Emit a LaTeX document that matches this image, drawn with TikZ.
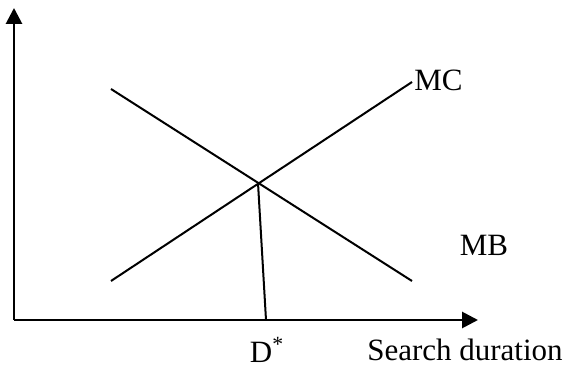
\documentclass[tikz,border=0pt]{standalone}
\usepackage{fontspec}
\setmainfont{Liberation Serif}
\usepackage{tikz}
\usetikzlibrary{arrows.meta}

\begin{document}
\begin{tikzpicture}[x=0.5pt,y=-0.5pt,
        axis/.style={line width=1.4pt,-{Triangle[length=8pt,width=8pt]}},
        curve/.style={line width=1pt},
        lbl/.style={font=\fontsize{15.5}{18}\selectfont,inner sep=0pt}]
            \useasboundingbox (0,0) rectangle (567,368);
            \coordinate (orig) at (14,320);
            \coordinate (ytop) at (14,8);
            \coordinate (xend) at (478,320);
            \coordinate (mcA) at (111,281);
            \coordinate (mcB) at (412,82);
            \coordinate (mbA) at (111,89);
            \coordinate (mbB) at (412,281);
            \coordinate (eq) at (258,183);
            \coordinate (dst) at (266,320);
            \draw[axis] (orig) -- (ytop);
            \draw[axis] (orig) -- (xend);
            \draw[curve] (mcA) -- (mcB);
            \draw[curve] (mbA) -- (mbB);
            \draw[curve] (eq) -- (dst);
            \node[lbl, anchor=west] (mc) at (414,80) {MC};
            \node[lbl] (mb) at (484,245) {MB};
            \node[lbl] (dlab) at (267,350) {D\textsuperscript{*}};
            \node[lbl] (sd) at (465,350) {Search duration};
        \end{tikzpicture}
\end{document}
